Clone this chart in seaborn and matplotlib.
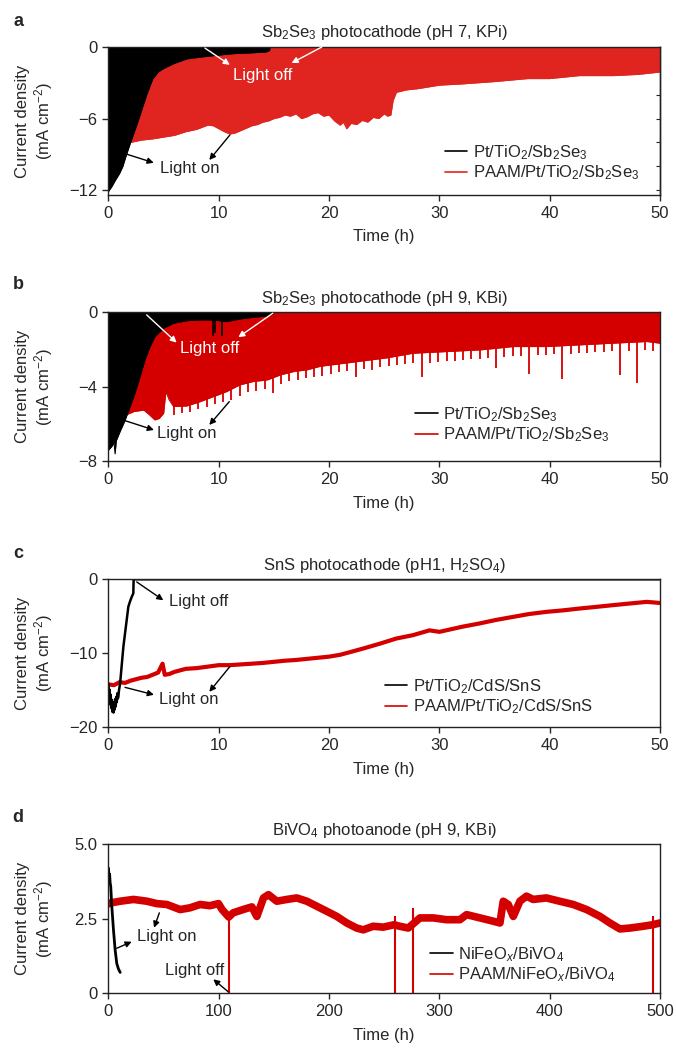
"""
plot.py
=======
Long-term stability of bare vs. PAAM-coated photoelectrodes (4 stacked panels).
Writes out.png (676x1050 px).
"""

import numpy as np
import pandas as pd
import matplotlib
matplotlib.use("Agg")
import matplotlib.pyplot as plt
import seaborn as sns

# --------------------------------------------------------------------------- #
# Data
# --------------------------------------------------------------------------- #
# a: Sb2Se3, pH 7 KPi -- light-on envelope of the chopped traces (mA cm-2)
a_black_t = [0, 0.3, 0.6, 1.0, 1.3, 1.6, 2.0, 2.5, 3.0, 3.5, 4.0, 4.5, 5.0,
             5.9, 7.1, 8.3, 9.8, 11.3, 12.8, 14.3, 14.6, 14.65, 50]
a_black_j = [-12.1, -11.7, -11.2, -10.6, -10.0, -9.1, -8.0, -6.7, -5.3, -3.9,
             -2.7, -2.1, -1.8, -1.4, -1.0, -0.85, -0.7, -0.56, -0.5, -0.42,
             -0.3, 0, 0]
a_red_t = [0, 2, 3, 4, 5, 6, 7, 8, 9, 9.5, 10, 10.5, 11, 11.5, 12, 12.5, 13,
           13.5, 14, 14.5, 15, 15.5, 16, 16.5, 17, 17.5, 18, 18.5, 19, 19.5,
           20, 20.5, 21, 21.3, 21.6, 22, 22.5, 23, 23.5, 24, 24.5, 25, 25.3,
           25.6, 25.8, 26.1, 27, 28, 30, 32, 35, 38, 40, 42.7, 45.8, 48, 50]
a_red_j = [-8.0, -8.0, -7.8, -7.7, -7.55, -7.4, -7.1, -6.9, -6.55, -6.6,
           -6.85, -7.1, -7.3, -7.2, -7.0, -6.8, -6.6, -6.5, -6.3, -6.2, -6.0,
           -5.9, -5.7, -5.8, -5.6, -6.0, -5.85, -5.6, -5.5, -5.8, -5.7, -6.2,
           -6.55, -6.3, -6.85, -6.4, -6.5, -6.15, -6.3, -5.9, -6.0, -5.6,
           -5.8, -5.7, -4.5, -3.8, -3.6, -3.5, -3.2, -3.1, -2.9, -2.65, -2.65,
           -2.4, -2.4, -2.3, -2.1]

# b: Sb2Se3, pH 9 KBi
b_black_t = [0, 0.3, 0.5, 0.6, 0.7, 1.05, 1.5, 1.95, 2.4, 2.86, 3.3, 3.76,
             4.2, 4.97, 5.9, 7.1, 8.3, 9.5, 10.7, 11.9, 13.1, 14.4, 14.9,
             14.95, 50]
b_black_j = [-7.4, -7.2, -7.0, -7.6, -6.9, -6.4, -5.8, -5.07, -4.35, -3.45,
             -2.56, -1.85, -1.31, -0.86, -0.59, -0.45, -0.41, -0.41, -0.5,
             -0.36, -0.27, -0.2, -0.1, 0, 0]
b_black_spike_t = [9.5, 9.7, 10.25]
b_black_spike_j = [-1.3, -1.1, -1.25]
b_red_t = [0, 1.6, 2.3, 3.2, 3.7, 4.2, 4.6, 5.0, 5.2, 5.5, 5.9, 7.1, 8.3,
           9.5, 10.7, 11.9, 13.1, 14.4, 15.6, 16.8, 18.0, 19.2, 20.4, 21.6,
           22.8, 24.0, 25.2, 27.6, 30.6, 33.7, 36.7, 39.7, 42.7, 45.7, 48.8,
           50]
b_red_j = [-5.5, -5.51, -5.33, -5.25, -5.5, -5.78, -5.7, -5.42, -4.26, -4.7,
           -5.06, -5.03, -4.8, -4.53, -4.26, -3.9, -3.72, -3.63, -3.36, -3.18,
           -3.09, -2.9, -2.81, -2.72, -2.63, -2.54, -2.45, -2.2, -2.11, -2.02,
           -1.84, -1.84, -1.75, -1.66, -1.57, -1.66]
# transient spikes at the end of each light-on period
b_spike_t = [5.9, 6.65, 7.4, 8.15, 8.9, 9.65, 10.4, 11.15, 11.9, 12.65, 13.4,
             14.15, 14.9, 15.65, 16.4, 17.15, 17.9, 18.65, 19.4, 20.15, 20.9,
             21.65, 22.4, 23.15, 23.9, 24.65, 25.4, 26.15, 26.9, 27.65, 28.4,
             29.15, 29.9, 30.65, 31.4, 32.15, 32.9, 33.65, 34.4, 35.15, 35.9,
             36.65, 37.4, 38.15, 38.9, 39.65, 40.4, 41.15, 41.9, 42.65, 43.4,
             44.15, 44.9, 45.65, 46.4, 47.15, 47.9, 48.65, 49.4]
b_spike_j = [-5.5, -5.4, -5.35, -5.2, -5.1, -4.95, -4.8, -4.7, -4.5, -4.3,
             -4.25, -4.1, -4.35, -3.85, -3.7, -3.65, -3.55, -3.45, -3.4, -3.3,
             -3.2, -3.15, -3.5, -3.05, -3.1, -2.95, -2.9, -2.85, -2.8, -2.75,
             -3.45, -2.7, -2.65, -2.6, -2.6, -2.55, -2.5, -2.5, -2.45, -3.0,
             -2.4, -2.35, -2.35, -3.3, -2.3, -2.3, -2.25, -3.6, -2.25, -2.2,
             -2.2, -2.15, -2.15, -2.1, -3.35, -2.1, -3.8, -2.05, -2.1]

# c: SnS, pH 1 H2SO4 (continuous illumination)
c_black_t = [0, 0.05, 0.1, 0.15, 0.2, 0.25, 0.3, 0.35, 0.4, 0.45, 0.5, 0.55,
             0.6, 0.65, 0.7, 0.75, 0.8, 0.85, 0.9, 0.95, 1.05, 1.2, 1.35, 1.5,
             1.65, 1.8, 1.95, 2.1, 2.25, 2.28, 50]
c_black_j = [-14.1, -15.8, -14.9, -16.9, -15.6, -17.4, -16.3, -17.9, -16.6,
             -18.0, -16.9, -17.6, -16.2, -17.2, -15.9, -16.6, -15.4, -16.1,
             -15.8, -15.0, -14.1, -11.6, -9.1, -7.3, -5.5, -3.7, -3.0, -2.4,
             -1.9, 0, 0]
c_red_t = [0, 0.5, 1, 1.5, 2, 2.5, 3, 3.5, 4, 4.5, 4.9, 5.1, 5.5, 6, 7, 8, 9,
           10, 11, 12, 13, 14, 15, 16, 17, 18, 19, 20, 21, 22, 23.1, 24.6,
           26.1, 27.6, 29.1, 30, 32.1, 33.6, 35.1, 36.6, 38.1, 39.7, 41.2,
           42.7, 44.2, 45.7, 47.2, 48.8, 50]
c_red_j = [-14.2, -14.3, -13.9, -14.0, -13.7, -13.5, -13.3, -13.2, -12.9,
           -12.6, -11.4, -12.9, -12.8, -12.5, -12.1, -12.0, -11.8, -11.6,
           -11.6, -11.5, -11.4, -11.3, -11.15, -11.0, -10.9, -10.75, -10.6,
           -10.45, -10.2, -9.8, -9.35, -8.7, -8.0, -7.55, -6.9, -7.1, -6.4,
           -5.98, -5.5, -5.1, -4.7, -4.4, -4.2, -3.95, -3.73, -3.5, -3.28,
           -3.05, -3.2]

# d: BiVO4 photoanode, pH 9 KBi
d_black_t = [0, 0.5, 1.0, 1.5, 2.0, 3.0, 4.5, 6.0, 7.5, 9.0, 10.6]
d_black_j = [4.2, 3.9, 4.0, 3.7, 3.6, 2.92, 2.13, 1.46, 1.0, 0.82, 0.7]
d_red_t = [0, 1.5, 10.6, 22.7, 34.8, 43.8, 52.9, 65, 74, 83, 92, 99.7, 103,
           109, 113, 122, 130, 134.5, 140.5, 145, 152.6, 161.7, 170.7, 179.8,
           188.9, 198, 207, 216, 225, 231, 240, 249, 259, 264, 271.8, 282.4,
           294.4, 306.5, 318.6, 324.7, 336.8, 348.8, 354.9, 357.9, 362.4, 367,
           373, 379, 385, 397, 409, 421.4, 433.5, 445.6, 454.6, 463.7, 472.7,
           484.8, 493.3, 500]
d_red_j = [3.0, 3.03, 3.09, 3.15, 3.09, 3.01, 2.98, 2.81, 2.87, 2.98, 2.94,
           3.01, 2.81, 2.56, 2.70, 2.81, 2.90, 2.58, 3.2, 3.31, 3.09, 3.15,
           3.2, 3.09, 2.92, 2.75, 2.58, 2.36, 2.19, 2.13, 2.25, 2.22, 2.3,
           2.25, 2.19, 2.53, 2.53, 2.47, 2.47, 2.64, 2.53, 2.42, 2.36, 3.09,
           2.98, 2.58, 3.09, 3.26, 3.15, 3.2, 3.09, 2.98, 2.81, 2.58, 2.36,
           2.16, 2.19, 2.25, 2.3, 2.36]
d_off_t = [109.7, 259.7, 275.7, 493.3]
d_off_j = [2.56, 2.58, 2.86, 2.58]

TITLES = [r"Sb$_2$Se$_3$ photocathode (pH 7, KPi)",
          r"Sb$_2$Se$_3$ photocathode (pH 9, KBi)",
          r"SnS photocathode (pH1, H$_2$SO$_4$)",
          r"BiVO$_4$ photoanode (pH 9, KBi)"]
LEGENDS = [(r"Pt/TiO$_2$/Sb$_2$Se$_3$", r"PAAM/Pt/TiO$_2$/Sb$_2$Se$_3$"),
           (r"Pt/TiO$_2$/Sb$_2$Se$_3$", r"PAAM/Pt/TiO$_2$/Sb$_2$Se$_3$"),
           (r"Pt/TiO$_2$/CdS/SnS", r"PAAM/Pt/TiO$_2$/CdS/SnS"),
           (r"NiFeO$_x$/BiVO$_4$", r"PAAM/NiFeO$_x$/BiVO$_4$")]

# --------------------------------------------------------------------------- #
# Style
# --------------------------------------------------------------------------- #
RED_A = "#e0241f"
RED = "#d40000"
FS = 12

sns.set_theme(style="ticks")
plt.rcParams.update({
    "font.family": ["Liberation Sans", "DejaVu Sans"],
    "font.size": FS,
    "mathtext.fontset": "custom",
    "mathtext.rm": "Liberation Sans",
    "mathtext.it": "Liberation Sans:italic",
    "mathtext.bf": "Liberation Sans:bold",
    "axes.linewidth": 1.0,
    "axes.edgecolor": "#222222",
})

LEFT, WIDTH = 0.1605, 0.8158
RECTS = [[LEFT, 0.8143, WIDTH, 0.1410],
         [LEFT, 0.5607, WIDTH, 0.1419],
         [LEFT, 0.3073, WIDTH, 0.1410],
         [LEFT, 0.0540, WIDTH, 0.1419]]
LEG_POS = [(0.610, 0.350), (0.556, 0.376), (0.501, 0.338), (0.583, 0.322)]
PANEL_Y = [21, 285, 553, 817]


def _line(ax, t, j, color, label, lw, z):
    df = pd.DataFrame({"t": t, "j": j})
    sns.lineplot(data=df, x="t", y="j", color=color, lw=lw, label=label,
                 estimator=None, sort=False, ax=ax, zorder=z)


def _arrow(ax, tail, head, color):
    ax.annotate("", xy=head, xytext=tail,
                arrowprops=dict(arrowstyle="-|>", color=color, lw=1.0,
                                mutation_scale=9, shrinkA=0, shrinkB=0),
                zorder=6)


def _style(ax, i, xmax, xstep, ylim, yticks, ylabels):
    ax.set_xlim(0, xmax)
    ax.set_ylim(*ylim)
    ax.set_xticks(np.arange(0, xmax + 1, xstep))
    ax.set_yticks(yticks, labels=ylabels)
    for sp in ax.spines.values():
        sp.set_visible(True)
        sp.set_zorder(5)
    ax.tick_params(direction="out", length=4, width=1, labelsize=FS,
                   pad=4)
    ax.set_xlabel("Time (h)", fontsize=FS, labelpad=6)
    ax.set_ylabel("Current density\n(mA cm$^{-2}$)", fontsize=FS,
                  linespacing=1.1)
    ax.yaxis.set_label_coords(-0.097, 0.5)
    ax.set_title(TITLES[i], fontsize=FS, pad=7)
    handles, labels = ax.get_legend_handles_labels()
    order = [labels.index(LEGENDS[i][0]), labels.index(LEGENDS[i][1])]
    leg = ax.legend([handles[k] for k in order], [labels[k] for k in order],
                    loc="upper left", bbox_to_anchor=LEG_POS[i],
                    frameon=False, borderpad=0, borderaxespad=0,
                    handlelength=1.35, handletextpad=0.35, labelspacing=0.1,
                    fontsize=FS)
    for ln in leg.get_lines():
        ln.set_linewidth(1.2)


fig = plt.figure(figsize=(6.76, 10.5), dpi=100)
axes = [fig.add_axes(r) for r in RECTS]

# ---- a ------------------------------------------------------------------- #
ax = axes[0]
ax.fill_between(a_red_t, a_red_j, 0, color=RED_A, lw=0, zorder=1)
_line(ax, a_red_t, a_red_j, RED_A, LEGENDS[0][1], 0.8, 1.5)
ax.fill_between(a_black_t, a_black_j, 0, color="black", lw=0, zorder=2)
_line(ax, a_black_t, a_black_j, "black", LEGENDS[0][0], 0.8, 2.5)
ax.text(14.0, -2.36, "Light off", color="white", ha="center", va="center",
        fontsize=FS, zorder=6)
_arrow(ax, (8.75, -0.1), (11.0, -1.5), "white")
_arrow(ax, (19.35, 0.0), (16.6, -1.35), "white")
ax.text(7.4, -10.2, "Light on", ha="center", va="center", fontsize=FS)
_arrow(ax, (1.6, -8.97), (4.1, -9.7), "black")
_arrow(ax, (11.0, -7.38), (9.14, -9.47), "black")
_style(ax, 0, 50, 10, (-12.4, 0), [0, -6, -12], ["0", "\u22126", "\u221212"])
sec = ax.secondary_yaxis("right")
sec.set_yticks(np.arange(-12, 0.1, 2), labels=[""] * 7)
sec.tick_params(direction="in", length=3, width=0.8)

# ---- b ------------------------------------------------------------------- #
ax = axes[1]
ax.fill_between(b_red_t, b_red_j, 0, color=RED, lw=0, zorder=1)
ax.vlines(b_spike_t, b_spike_j, 0, colors=RED, lw=1.3, zorder=1)
_line(ax, b_red_t, b_red_j, RED, LEGENDS[1][1], 0.8, 1.5)
ax.fill_between(b_black_t, b_black_j, 0, color="black", lw=0, zorder=2)
ax.vlines(b_black_spike_t, b_black_spike_j, 0, colors="black", lw=1.2,
          zorder=2)
_line(ax, b_black_t, b_black_j, "black", LEGENDS[1][0], 0.8, 2.5)
ax.text(9.2, -1.97, "Light off", color="white", ha="center", va="center",
        fontsize=FS, zorder=6)
_arrow(ax, (3.46, -0.14), (6.18, -1.63), "white")
_arrow(ax, (14.9, -0.05), (11.77, -1.34), "white")
ax.text(7.09, -6.5, "Light on", ha="center", va="center", fontsize=FS)
_arrow(ax, (1.5, -5.82), (4.12, -6.32), "black")
_arrow(ax, (10.95, -4.8), (9.14, -6.05), "black")
_style(ax, 1, 50, 10, (-8, 0), [0, -4, -8], ["0", "\u22124", "\u22128"])

# ---- c ------------------------------------------------------------------- #
ax = axes[2]
_line(ax, c_red_t, c_red_j, RED, LEGENDS[2][1], 3.0, 1.5)
_line(ax, c_black_t, c_black_j, "black", LEGENDS[2][0], 1.8, 2.5)
ax.text(8.14, -3.06, "Light off", ha="center", va="center", fontsize=FS)
_arrow(ax, (2.56, -0.36), (4.97, -2.83), "black")
ax.text(7.24, -16.3, "Light on", ha="center", va="center", fontsize=FS)
_arrow(ax, (1.5, -14.6), (4.12, -15.6), "black")
_arrow(ax, (11.0, -11.8), (9.14, -15.2), "black")
_style(ax, 2, 50, 10, (-20, 0), [0, -10, -20], ["0", "\u221210", "\u221220"])

# ---- d ------------------------------------------------------------------- #
ax = axes[3]
ax.vlines(d_off_t, 0, d_off_j, colors=RED, lw=1.5, zorder=1)
_line(ax, d_red_t, d_red_j, RED, LEGENDS[3][1], 5.5, 1.5)
_line(ax, d_black_t, d_black_j, "black", LEGENDS[3][0], 2.0, 2.5)
ax.text(52.8, 1.90, "Light on", ha="center", va="center", fontsize=FS)
_arrow(ax, (46.1, 2.70), (41.3, 2.20), "black")
_arrow(ax, (7.4, 1.51), (21.0, 1.73), "black")
ax.text(78.4, 0.78, "Light off", ha="center", va="center", fontsize=FS)
_arrow(ax, (108.6, 0.05), (95.0, 0.47), "black")
_style(ax, 3, 500, 100, (0, 5), [0, 2.5, 5], ["0", "2.5", "5.0"])

for lab, y in zip("abcd", PANEL_Y):
    fig.text(18 / 676, 1 - y / 1050, lab, fontsize=13, fontweight="bold",
             ha="center", va="center")

fig.savefig("out.png", dpi=100)
plt.close(fig)
